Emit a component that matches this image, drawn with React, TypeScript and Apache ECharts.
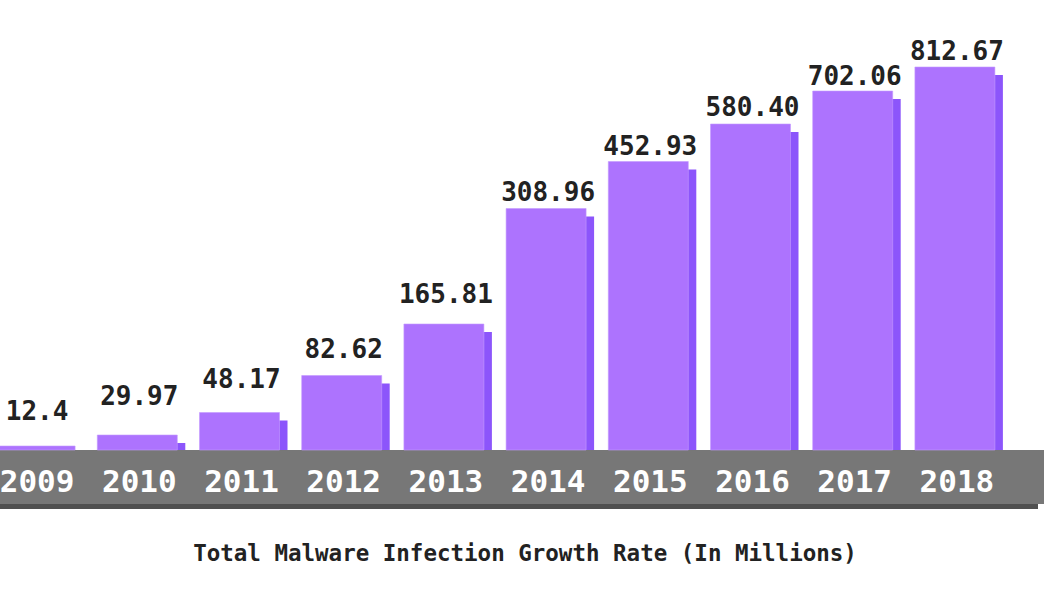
import React, { useEffect, useRef } from "react";
import * as echarts from "echarts";

const years = ["2009", "2010", "2011", "2012", "2013", "2014", "2015", "2016", "2017", "2018"];
const valueLabels = ["12.4", "29.97", "48.17", "82.62", "165.81", "308.96", "452.93", "580.40", "702.06", "812.67"];
// Bar heights as drawn in the infographic (not proportional to the values)
const barHeights = [4, 15, 37.5, 74.5, 126, 241.5, 288.5, 326, 359, 383];
const titleText = "Total Malware Infection Growth Rate (In Millions)";

// layout / style
const FONT = "'DejaVu Sans Mono', 'Liberation Mono', monospace";
const BAR = "#ad73fe";
const BAR_SHADOW = "#8c55fb";
const OFF = 16; // chart canvas starts 16px left of the page
const labelGap = [25, 29, 24, 17, 20, 7, 6, 7, 5, 6.5]; // px between label and bar top

export default function App() {
  const ref = useRef<HTMLDivElement>(null);
  useEffect(() => {
    if (!ref.current) return;
    const chart = echarts.init(ref.current, null, { renderer: "svg" });
    const option: any = {
      animation: false,
      backgroundColor: "#ffffff",
      grid: { left: 0, right: 44, top: 50, bottom: 150 },
      xAxis: {
        type: "category",
        data: years,
        z: 10,
        axisLine: { show: false },
        axisTick: { show: false },
        axisLabel: {
          color: "#ffffff",
          fontFamily: FONT,
          fontWeight: "bold",
          fontSize: 31,
          verticalAlign: "middle",
          margin: 31,
          interval: 0,
          padding: [0, 0, 0, 4],
        },
      },
      yAxis: {
        type: "value",
        min: 0,
        max: 400,
        show: false,
      },
      graphic: [
        {
          type: "rect",
          z: 1,
          shape: { x: OFF, y: 455, width: 1038, height: 54 },
          style: { fill: "#505050" },
        },
        {
          type: "rect",
          z: 2,
          shape: { x: OFF, y: 450, width: 1044, height: 54 },
          style: { fill: "#777777" },
        },
        {
          type: "text",
          z: 3,
          x: 525 + OFF,
          y: 553,
          style: {
            text: titleText,
            fill: "#222222",
            fontFamily: FONT,
            fontWeight: "bold",
            fontSize: 22.5,
            align: "center",
            verticalAlign: "middle",
          },
        },
      ],
      series: [
        {
          type: "custom",
          z: 5,
          data: barHeights.map((h, i) => [i, h]),
          encode: { x: 0, y: 1 },
          renderItem: (params: any, api: any) => {
            const idx = params.dataIndex;
            const top = api.coord([api.value(0), api.value(1)]);
            const base = api.coord([api.value(0), 0]);
            const w = 80;
            const left = top[0] - w / 2;
            const h = base[1] - top[1];
            const sh = Math.max(0, h - 8);
            return {
              type: "group",
              children: [
                {
                  type: "rect",
                  shape: { x: left + 8, y: top[1] + 8, width: w, height: sh },
                  style: { fill: BAR_SHADOW },
                },
                {
                  type: "rect",
                  shape: { x: left, y: top[1], width: w, height: h },
                  style: { fill: BAR, stroke: "#c59bff", lineWidth: 0.6 },
                },
                {
                  type: "text",
                  x: top[0] + 2,
                  y: top[1] - 10 - labelGap[idx],
                  style: {
                    text: valueLabels[idx],
                    fill: "#222222",
                    fontFamily: FONT,
                    fontWeight: "bold",
                    fontSize: 26,
                    align: "center",
                    verticalAlign: "middle",
                  },
                },
              ],
            };
          },
        },
      ],
    };
    chart.setOption(option);
    return () => chart.dispose();
  }, []);
  return (
    <div
      ref={ref}
      style={{ position: "absolute", left: -OFF, top: 0, width: 1050 + OFF, height: 600 }}
    />
  );
}
